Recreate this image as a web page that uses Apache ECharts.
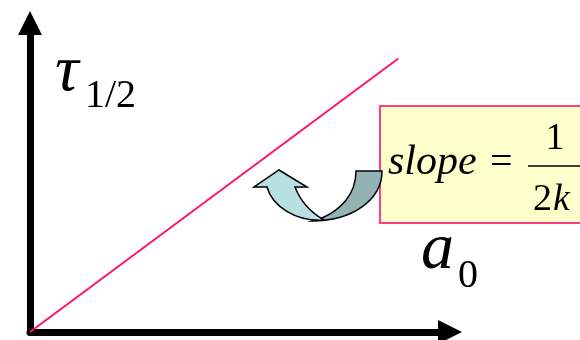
<!DOCTYPE html>
<html>
<head>
<meta charset="utf-8">
<script src="https://cdn.jsdelivr.net/npm/echarts@6/dist/echarts.min.js"></script>
<style>
  html, body { margin: 0; padding: 0; background: #fff; }
  #main { width: 580px; height: 340px; }
</style>
</head>
<body>
<div id="main"></div>
<script>
// 直线 τ1/2 = a0 / (2k) 的两个端点
const a0 = [0, 8.77];
const tau = [0, 8.85];

const yName = "τ";
const ySub = "1/2";
const xName = "a";
const xSub = "0";
const slopeWord = "slope";

const serif = "Liberation Serif";

var myChart = echarts.init(document.getElementById("main"));

function axisStyle(min, max) {
  return {
    type: "value",
    min: min,
    max: max,
    axisLine: {
      show: true,
      symbol: ["none", "triangle"],
      symbolSize: [24, 24],
      lineStyle: { color: "#000", width: 7 },
    },
    axisTick: { show: false },
    axisLabel: { show: false },
    splitLine: { show: false },
  };
}

function txt(x, y, text, size, italic, align) {
  return {
    type: "text",
    x: x,
    y: y,
    z: 10,
    style: {
      text: text,
      fontFamily: serif,
      fontSize: size,
      fontStyle: italic ? "italic" : "normal",
      fill: "#000",
      textAlign: align || "left",
      textVerticalAlign: "middle",
    },
  };
}

var option = {
  backgroundColor: "#fff",
  animation: false,
  grid: { left: 30, right: 130, top: 23, bottom: 8 },
  xAxis: axisStyle(0, 10),
  yAxis: axisStyle(0, 10),
  series: [
    {
      type: "line",
      data: a0.map(function (v, i) {
        return [v, tau[i]];
      }),
      showSymbol: false,
      lineStyle: { color: "#ff1466", width: 2 },
      silent: true,
    },
    {
      // 弯箭头
      type: "custom",
      coordinateSystem: "none",
      silent: true,
      z: 5,
      data: [0],
      renderItem: function () {
        return {
          type: "group",
          children: [
            {
              type: "path",
              shape: {
                pathData:
                  "M356 171 L382 171 C382 200 352 221 312 221 L322 218 C340 210 356 195 356 171 Z",
              },
              style: { fill: "#93b2b4", stroke: "#000", lineWidth: 1.5 },
            },
            {
              type: "path",
              shape: {
                pathData:
                  "M324 220 C296 222 272 206 267 187 L254 187 L279 170 L307 187 L295 187 C300 200 310 212 324 220 Z",
              },
              style: { fill: "#b8dfe2", stroke: "#000", lineWidth: 1.5 },
            },
          ],
        };
      },
    },
  ],
  graphic: [
    // 斜率说明框
    {
      type: "rect",
      z: 1,
      shape: { x: 380, y: 106, width: 215, height: 117 },
      style: { fill: "#ffffcc", stroke: "#ff3d85", lineWidth: 2 },
    },
    txt(55, 73, yName, 66, true),
    txt(85, 96, ySub, 40, false),
    txt(421, 251, xName, 66, true),
    txt(458, 276, xSub, 40, false),
    txt(388, 163, slopeWord, 42, true),
    txt(490, 163, "=", 40, false),
    txt(555, 139, "1", 38, false, "center"),
    txt(533, 200, "2", 38, false),
    txt(553, 200, "k", 38, true),
    {
      type: "line",
      z: 10,
      shape: { x1: 528, y1: 166, x2: 582, y2: 166 },
      style: { stroke: "#000", lineWidth: 1.5 },
    },
  ],
};

myChart.setOption(option);
</script>
</body>
</html>
